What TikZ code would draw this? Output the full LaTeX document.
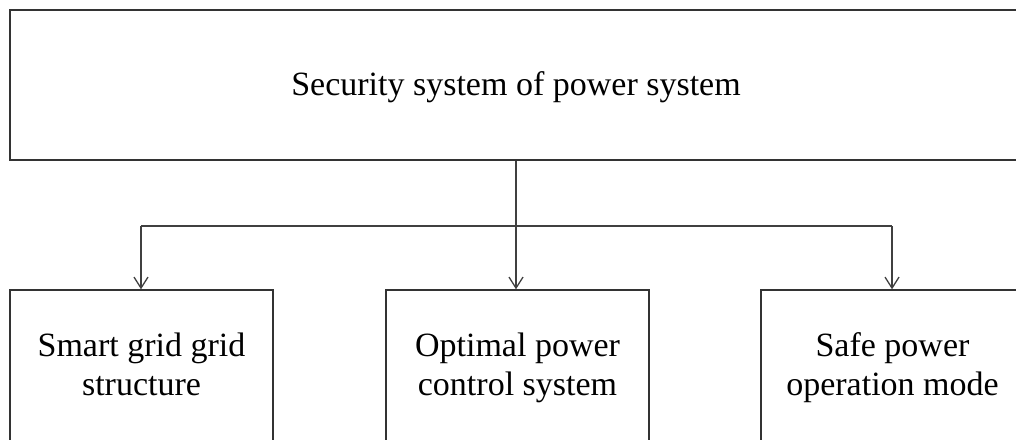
\documentclass[tikz,border=0pt]{standalone}
\usepackage{fontspec}
\setmainfont{Liberation Serif}
\usetikzlibrary{arrows.meta}
\begin{document}
\begin{tikzpicture}[x=1pt,y=-1pt,
  box/.style={draw=black!80,line width=1.4pt,inner sep=0pt,align=center,
    font=\fontsize{34}{39}\selectfont},
  link/.style={draw=black!75,line width=1.4pt},
  arr/.style={link,-{Straight Barb[length=11pt,width=14pt,line width=1.3pt]}}]
  \useasboundingbox (0,0) rectangle (1016,439);
  \clip (0,0) rectangle (1016,439);
  % top level
  \node[box,minimum width=1012pt,minimum height=150pt,
        text height=26pt,text depth=6pt] (top) at (516,85)
    {Security system of power system};
  % second level
  \node[box,minimum width=263pt,minimum height=160pt] (a) at (141.5,370)
    {Smart grid grid\\structure\strut};
  \node[box,minimum width=263pt,minimum height=160pt] (b) at (517.5,370)
    {Optimal power\\control system\strut};
  \node[box,minimum width=263pt,minimum height=160pt] (c) at (892.5,370)
    {Safe power\\operation mode\strut};
  % branching connectors
  \coordinate (j) at (516,226);
  \coordinate (jl) at (141,226);
  \coordinate (jr) at (892,226);
  \draw[link] (top.south) -- (j);
  \draw[link] (jl) -- (jr);
  \draw[arr] (jl) -- (a.north -| jl);
  \draw[arr] (j) -- (b.north -| j);
  \draw[arr] (jr) -- (c.north -| jr);
\end{tikzpicture}
\end{document}
